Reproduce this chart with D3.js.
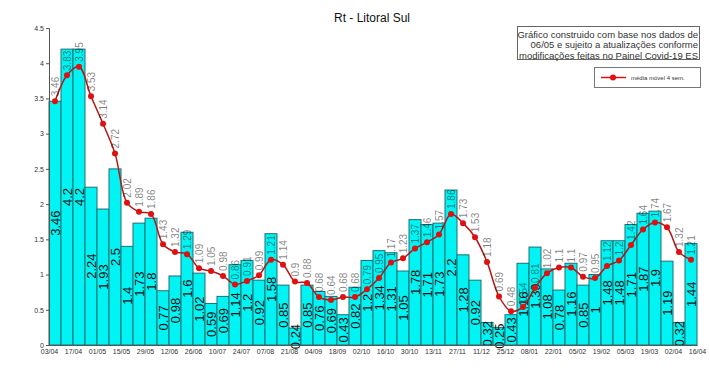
<!DOCTYPE html>
<html>
<head>
<meta charset="utf-8">
<script src="https://cdn.jsdelivr.net/npm/d3@7/dist/d3.min.js"></script>
<style>
  body { margin: 0; background: #fff; }
  svg { font-family: "Liberation Sans", Arial, sans-serif; }
</style>
</head>
<body>
<div id="chart"></div>
<script>
// weekly Rt values (bars)
var rt = [3.46, 4.2, 4.2, 2.24, 1.93, 2.5, 1.4, 1.73, 1.8, 0.77, 0.98, 1.6, 1.02, 0.59, 0.69,
  1.14, 1.2, 0.92, 1.58, 0.85, 0.24, 0.85, 0.76, 0.69, 0.43, 0.82, 1.2, 1.34, 1.31, 1.05,
  1.78, 1.71, 1.73, 2.2, 1.28, 0.92, 0.32, 0.25, 0.43, 1.16, 1.39, 1.08, 0.78, 1.16, 0.85,
  1, 1.48, 1.48, 1.71, 1.87, 1.9, 1.19, 0.32, 1.44];

// média móvel 4 sem.
var mm4 = [3.46, 3.83, 3.95, 3.53, 3.14, 2.72, 2.02, 1.89, 1.86, 1.43, 1.32, 1.29, 1.09, 1.05, 0.98,
  0.86, 0.91, 0.99, 1.21, 1.14, 0.9, 0.88, 0.68, 0.64, 0.68, 0.68, 0.79, 0.95, 1.17, 1.23,
  1.37, 1.46, 1.57, 1.86, 1.73, 1.53, 1.18, 0.69, 0.48, 0.54, 0.81, 1.02, 1.1, 1.1, 0.97,
  0.95, 1.12, 1.2, 1.42, 1.64, 1.74, 1.67, 1.32, 1.21];

// date labels at every other bar edge
var dateLabels = ["03/04", "17/04", "01/05", "15/05", "29/05", "12/06", "26/06", "10/07", "24/07",
  "07/08", "21/08", "04/09", "18/09", "02/10", "16/10", "30/10", "13/11", "27/11", "11/12",
  "25/12", "08/01", "22/01", "05/02", "19/02", "05/03", "19/03", "02/04", "16/04"];

var yTicks = [0, 0.5, 1, 1.5, 2, 2.5, 3, 3.5, 4, 4.5];

var W = 710, H = 388;
var margin = {top: 28, right: 13, bottom: 43, left: 49};
var width = W - margin.left - margin.right,
    height = H - margin.top - margin.bottom;

var svg = d3.select("#chart").append("svg")
    .attr("width", W)
    .attr("height", H);

var g = svg.append("g")
    .attr("transform", "translate(" + margin.left + "," + margin.top + ")");

var n = rt.length;
// x in "week units": bar i spans [i, i+1]
var x = d3.scaleLinear().domain([0, n]).range([0, width]);
var y = d3.scaleLinear().domain([0, 4.5]).range([height, 0]);

// bars
g.selectAll(".bar")
    .data(rt)
  .enter().append("rect")
    .attr("class", "bar")
    .attr("x", function(d, i) { return x(i); })
    .attr("y", function(d) { return y(d); })
    .attr("width", x(1) - x(0))
    .attr("height", function(d) { return height - y(d); })
    .attr("fill", "#00f4f4")
    .attr("stroke", "#1f6f73")
    .attr("stroke-width", 1);

// bar value labels (rotated)
g.selectAll(".barlabel")
    .data(rt)
  .enter().append("text")
    .attr("class", "barlabel")
    .attr("transform", function(d, i) {
      return "translate(" + (x(i + 0.5) + 4.5) + "," + ((y(d) + height) / 2) + ") rotate(-90)";
    })
    .attr("text-anchor", "middle")
    .style("font-size", "13px")
    .attr("fill", "#111")
    .text(function(d) { return d; });

// y axis
var yAxis = g.append("g")
    .call(d3.axisLeft(y).tickValues(yTicks).tickSize(3).tickPadding(2)
      .tickFormat(function(d) { return d; }));
yAxis.select(".domain").attr("stroke", "#555");
yAxis.selectAll(".tick line").attr("stroke", "#555");
yAxis.selectAll("text").style("font-size", "7px").attr("fill", "#333")
    .style("font-family", "'Liberation Sans', Arial, sans-serif");

// x axis
var xAxis = g.append("g")
    .attr("transform", "translate(0," + height + ")")
    .call(d3.axisBottom(x).tickValues(d3.range(0, n + 1, 2)).tickSize(0).tickPadding(4)
      .tickFormat(function(d, i) { return dateLabels[i]; }));
xAxis.select(".domain").attr("stroke", "#555");
xAxis.selectAll("text").style("font-size", "7px").attr("fill", "#333")
    .style("font-family", "'Liberation Sans', Arial, sans-serif");

// moving average line
var line = d3.line()
    .x(function(d, i) { return x(i + 0.5); })
    .y(function(d) { return y(d); })
    .curve(d3.curveCatmullRom.alpha(0.5));

g.append("path")
    .datum(mm4)
    .attr("fill", "none")
    .attr("stroke", "#b01818")
    .attr("stroke-width", 1.5)
    .attr("d", line);

g.selectAll(".dot")
    .data(mm4)
  .enter().append("circle")
    .attr("class", "dot")
    .attr("cx", function(d, i) { return x(i + 0.5); })
    .attr("cy", function(d) { return y(d); })
    .attr("r", 3)
    .attr("fill", "#e01010");

g.selectAll(".mmlabel")
    .data(mm4)
  .enter().append("text")
    .attr("class", "mmlabel")
    .attr("transform", function(d, i) {
      return "translate(" + (x(i + 0.5) + 3.5) + "," + (y(d) - 5) + ") rotate(-90)";
    })
    .attr("text-anchor", "start")
    .style("font-size", "10px")
    .attr("fill", "#000")
    .attr("fill-opacity", 0.5)
    .text(function(d) { return d; });

// title
svg.append("text")
    .attr("x", 372)
    .attr("y", 22)
    .attr("text-anchor", "middle")
    .style("font-size", "12px")
    .attr("fill", "#111")
    .text("Rt - Litoral Sul");

// note box
svg.append("rect")
    .attr("x", 517.5).attr("y", 26.5)
    .attr("width", 182).attr("height", 33)
    .attr("fill", "#fff").attr("stroke", "#666");

var notes = ["Gráfico construido com base nos dados de",
  "06/05 e sujeito a atualizações conforme",
  "modificações feitas no Painel Covid-19 ES"];
svg.selectAll(".note")
    .data(notes)
  .enter().append("text")
    .attr("class", "note")
    .attr("x", 698)
    .attr("y", function(d, i) { return 37.5 + i * 10.5; })
    .attr("text-anchor", "end")
    .style("font-size", "9.5px")
    .attr("fill", "#333")
    .text(function(d) { return d; });

// legend
var leg = svg.append("g").attr("transform", "translate(594,67)");
leg.append("rect")
    .attr("x", 0.5).attr("y", 0.5)
    .attr("width", 106).attr("height", 20)
    .attr("fill", "#fff").attr("stroke", "#777");
leg.append("line")
    .attr("x1", 7).attr("x2", 32).attr("y1", 10.5).attr("y2", 10.5)
    .attr("stroke", "#e01010").attr("stroke-width", 1.5);
leg.append("circle")
    .attr("cx", 19).attr("cy", 10.5).attr("r", 3)
    .attr("fill", "#e01010");
leg.append("text")
    .attr("x", 37).attr("y", 12.5)
    .style("font-size", "6px")
    .attr("fill", "#333")
    .text("média móvel 4 sem.");
</script>
</body>
</html>
